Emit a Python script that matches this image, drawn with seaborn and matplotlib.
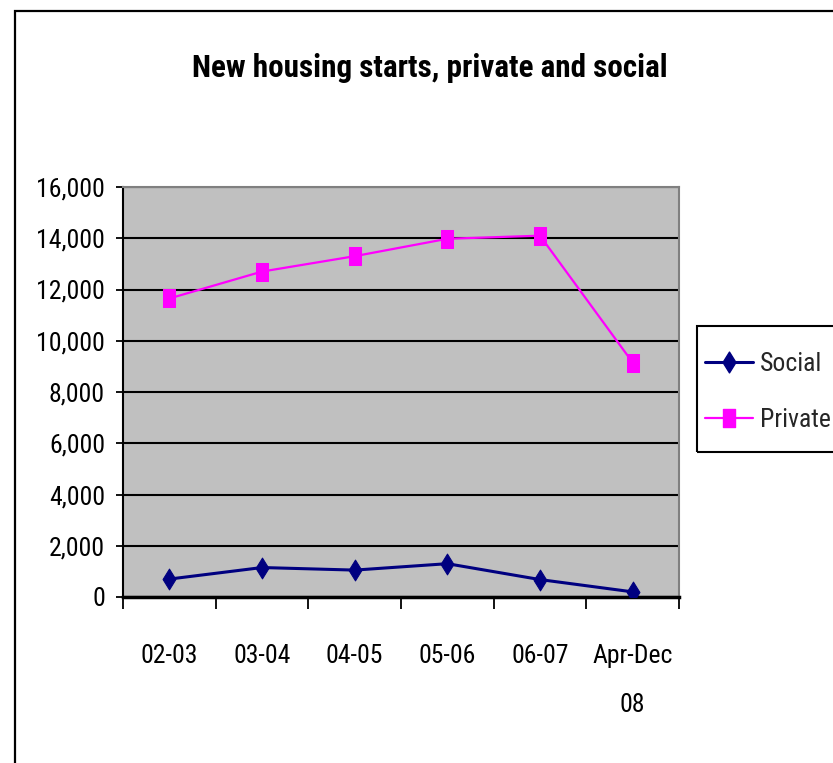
import matplotlib
matplotlib.use("Agg")
import matplotlib.pyplot as plt
import matplotlib.ticker as mticker
from matplotlib.path import Path
from matplotlib.patches import Rectangle
from matplotlib.lines import Line2D
import numpy as np
import pandas as pd
import seaborn as sns

# ---- data ----
periods = ["02-03", "03-04", "04-05", "05-06", "06-07", "Apr-Dec\n08"]
social = [700, 1150, 1050, 1300, 680, 200]
private = [11650, 12700, 13300, 13980, 14100, 9150]
series_names = ["Social", "Private"]
title_text = "New housing starts, private and social"

sns.set_theme(style="white")
plt.rcParams["font.family"] = ["Roboto Condensed", "DejaVu Sans"]

W, H = 833, 763
FS = 18.5
fig = plt.figure(figsize=(W / 100, H / 100), dpi=100)
fig.patch.set_facecolor("white")

ax = fig.add_axes([123 / W, 1 - 597 / H, (679 - 123) / W, (597 - 187) / H])
ax.set_facecolor("#C0C0C0")

df_s = pd.DataFrame({"period": periods, "value": social})
df_p = pd.DataFrame({"period": periods, "value": private})

diamond = Path([(0, 1), (0.62, 0), (0, -1), (-0.62, 0), (0, 1)],
               [Path.MOVETO, Path.LINETO, Path.LINETO, Path.LINETO, Path.CLOSEPOLY])
rect = Path([(-0.7, -1), (0.7, -1), (0.7, 1), (-0.7, 1), (-0.7, -1)],
            [Path.MOVETO, Path.LINETO, Path.LINETO, Path.LINETO, Path.CLOSEPOLY])

navy = "#000080"
mag = "#FF00FF"

sns.lineplot(data=df_s, x="period", y="value", ax=ax, color=navy, linewidth=2.2,
             marker=diamond, markersize=15, markeredgecolor=navy, markerfacecolor=navy,
             sort=False, zorder=4)
sns.lineplot(data=df_p, x="period", y="value", ax=ax, color=mag, linewidth=1.6,
             marker=rect, markersize=12.5, markeredgecolor=mag, markerfacecolor=mag,
             sort=False, zorder=4)

ax.set_xlim(-0.5, len(periods) - 0.5)
ax.set_ylim(0, 16000)
ax.set_xlabel("")
ax.set_ylabel("")

# y axis
ax.yaxis.set_major_locator(mticker.MultipleLocator(2000))
ax.yaxis.set_major_formatter(mticker.FuncFormatter(lambda v, p: f"{int(v):,}"))
ax.grid(axis="y", color="black", linewidth=1.5, zorder=1)
ax.set_axisbelow(True)
ax.tick_params(axis="y", which="major", direction="out", length=5, width=1.3,
               color="black", pad=8, labelsize=FS, labelcolor="black", left=True)

# x axis: labels centered, tick marks between categories
ax.set_xticks(range(len(periods)))
ax.set_xticklabels(periods)
ax.set_xticks(np.arange(-0.5, len(periods)), minor=True)
ax.tick_params(axis="x", which="major", length=0, pad=34, labelsize=FS, labelcolor="black")
ax.tick_params(axis="x", which="minor", direction="out", length=8.5, width=1.3,
               color="black", bottom=True)
for t in ax.get_xticklabels():
    t.set_linespacing(2.3)
    t.set_verticalalignment("top")

for side in ["top", "right"]:
    ax.spines[side].set_color("#808080")
    ax.spines[side].set_linewidth(1.5)
ax.spines["left"].set_color("black")
ax.spines["left"].set_linewidth(1.5)
ax.spines["bottom"].set_color("black")
ax.spines["bottom"].set_linewidth(2.5)
for s in ax.spines.values():
    s.set_visible(True)

# title
fig.text(430 / W, 1 - 68 / H, title_text, ha="center", va="center",
         fontsize=22.4, fontweight="bold", color="black")

# outer chart border
fig.patches.append(Rectangle((15 / W, -0.05), 1.2, 1 - 11 / H + 0.05,
                             transform=fig.transFigure, fill=False,
                             edgecolor="black", linewidth=1.6))

# legend box + legend
fig.patches.append(Rectangle((697 / W, 1 - 452 / H), 0.5, (452 - 326) / H,
                             transform=fig.transFigure, fill=False,
                             edgecolor="black", linewidth=1.5))
handles = [
    Line2D([], [], color=navy, linewidth=2.2, marker=diamond, markersize=15,
           markeredgecolor=navy, markerfacecolor=navy),
    Line2D([], [], color=mag, linewidth=1.6, marker=rect, markersize=12.5,
           markeredgecolor=mag, markerfacecolor=mag),
]
fig.legend(handles, series_names, loc="center left",
           bbox_to_anchor=(705 / W, 1 - 392 / H), frameon=False,
           fontsize=FS, handlelength=1.85, handletextpad=0.3, labelspacing=1.25,
           borderpad=0, borderaxespad=0)

fig.savefig("out.png", dpi=100)
